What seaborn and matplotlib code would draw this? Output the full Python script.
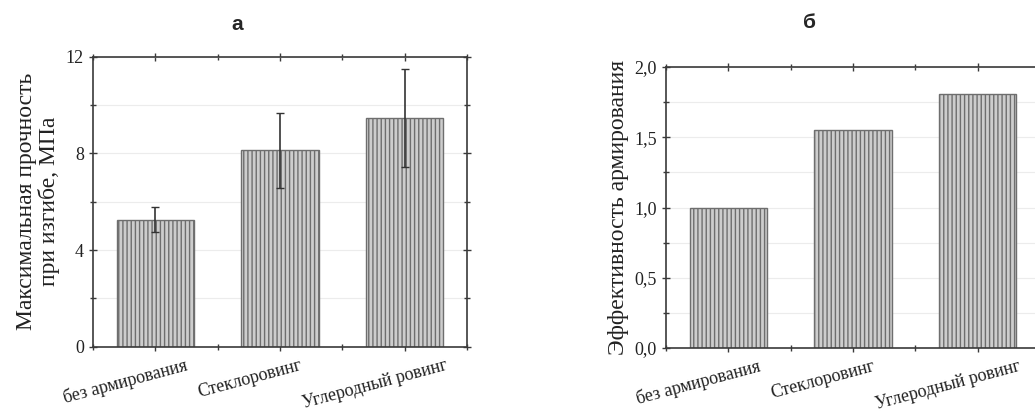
import matplotlib
matplotlib.use("Agg")
import matplotlib.pyplot as plt
import matplotlib.transforms as mtransforms
from matplotlib.ticker import MultipleLocator, FuncFormatter
import pandas as pd
import seaborn as sns

# data
categories = ["без армирования", "Стеклоровинг", "Углеродный ровинг"]
strength = [5.25, 8.12, 9.45]
strength_err = [0.52, 1.56, 2.03]
efficiency = [1.0, 1.555, 1.81]

sns.set_theme(style="ticks")
plt.rcParams["font.family"] = ["Liberation Serif", "DejaVu Serif"]
plt.rcParams["hatch.linewidth"] = 1.0
plt.rcParams["hatch.color"] = "#9a9a9a"

df_a = pd.DataFrame({"cat": categories, "val": strength, "err": strength_err})
df_b = pd.DataFrame({"cat": categories, "val": efficiency})

fig = plt.figure(figsize=(10.35, 4.12), dpi=100)
ax1 = fig.add_axes([0.0899, 0.1585, 0.3613, 0.7039])
ax2 = fig.add_axes([0.6435, 0.1553, 0.3613, 0.6821])


def style_bars(ax):
    for p in ax.patches:
        p.set_facecolor("#cdcdcd")
        p.set_edgecolor("#6e6e6e")
        p.set_linewidth(1.0)
        p.set_hatch("||||")


def style_axes(ax, ymax, major, minor, fmt):
    ax.set_xlim(-0.5, 2.5)
    ax.set_ylim(0, ymax)
    ax.yaxis.set_major_locator(MultipleLocator(major))
    ax.yaxis.set_minor_locator(MultipleLocator(minor))
    ax.xaxis.set_minor_locator(MultipleLocator(0.5))
    ax.yaxis.set_major_formatter(FuncFormatter(fmt))
    ax.grid(True, axis="y", which="both", color="#ececec", lw=0.8, zorder=0)
    ax.set_axisbelow(True)
    for s in ax.spines.values():
        s.set_visible(True)
        s.set_color("#3a3a3a")
        s.set_linewidth(1.2)
    ax.tick_params(which="both", direction="inout", top=True, right=True,
                   color="#3a3a3a", width=1.0)
    ax.tick_params(which="major", length=6, labelsize=13, colors="#3a3a3a",
                   labelcolor="#222222")
    ax.tick_params(axis="x", which="major", pad=4)
    ax.tick_params(which="minor", length=4)
    ax.set_xlabel("")
    ax.set_xticks(range(len(categories)))
    ax.set_xticklabels(categories, rotation=15, ha="center", fontsize=13)
    shift = mtransforms.ScaledTranslation(-0.3, 0.0, fig.dpi_scale_trans)
    for lab in ax.get_xticklabels():
        lab.set_transform(lab.get_transform() + shift)


# panel a
sns.barplot(data=df_a, x="cat", y="val", ax=ax1, width=0.62, errorbar=None,
            color="#cdcdcd")
style_bars(ax1)
ax1.errorbar(range(len(categories)), df_a["val"], yerr=df_a["err"], fmt="none",
             ecolor="#333333", elinewidth=1.2, capsize=3, capthick=1.0, zorder=5)
style_axes(ax1, 12, 4, 2, lambda v, p: f"{v:g}")
ax1.set_ylabel("Максимальная прочность\nпри изгибе, МПа", fontsize=17,
               color="#222222", linespacing=1.1)

# panel b
sns.barplot(data=df_b, x="cat", y="val", ax=ax2, width=0.62, errorbar=None,
            color="#cdcdcd")
style_bars(ax2)
style_axes(ax2, 2.0, 0.5, 0.25, lambda v, p: f"{v:.1f}".replace(".", ","))
ax2.set_ylabel("Эффективность армирования", fontsize=17, color="#222222",
               labelpad=4)

fig.text(237 / 1035, 1 - 25 / 412, "а", ha="center", va="center",
         fontsize=15, fontweight="bold", family="Liberation Sans")
fig.text(810 / 1035, 1 - 23 / 412, "б", ha="center", va="center",
         fontsize=15, fontweight="bold", family="Liberation Sans")

fig.savefig("out.png", dpi=100)
